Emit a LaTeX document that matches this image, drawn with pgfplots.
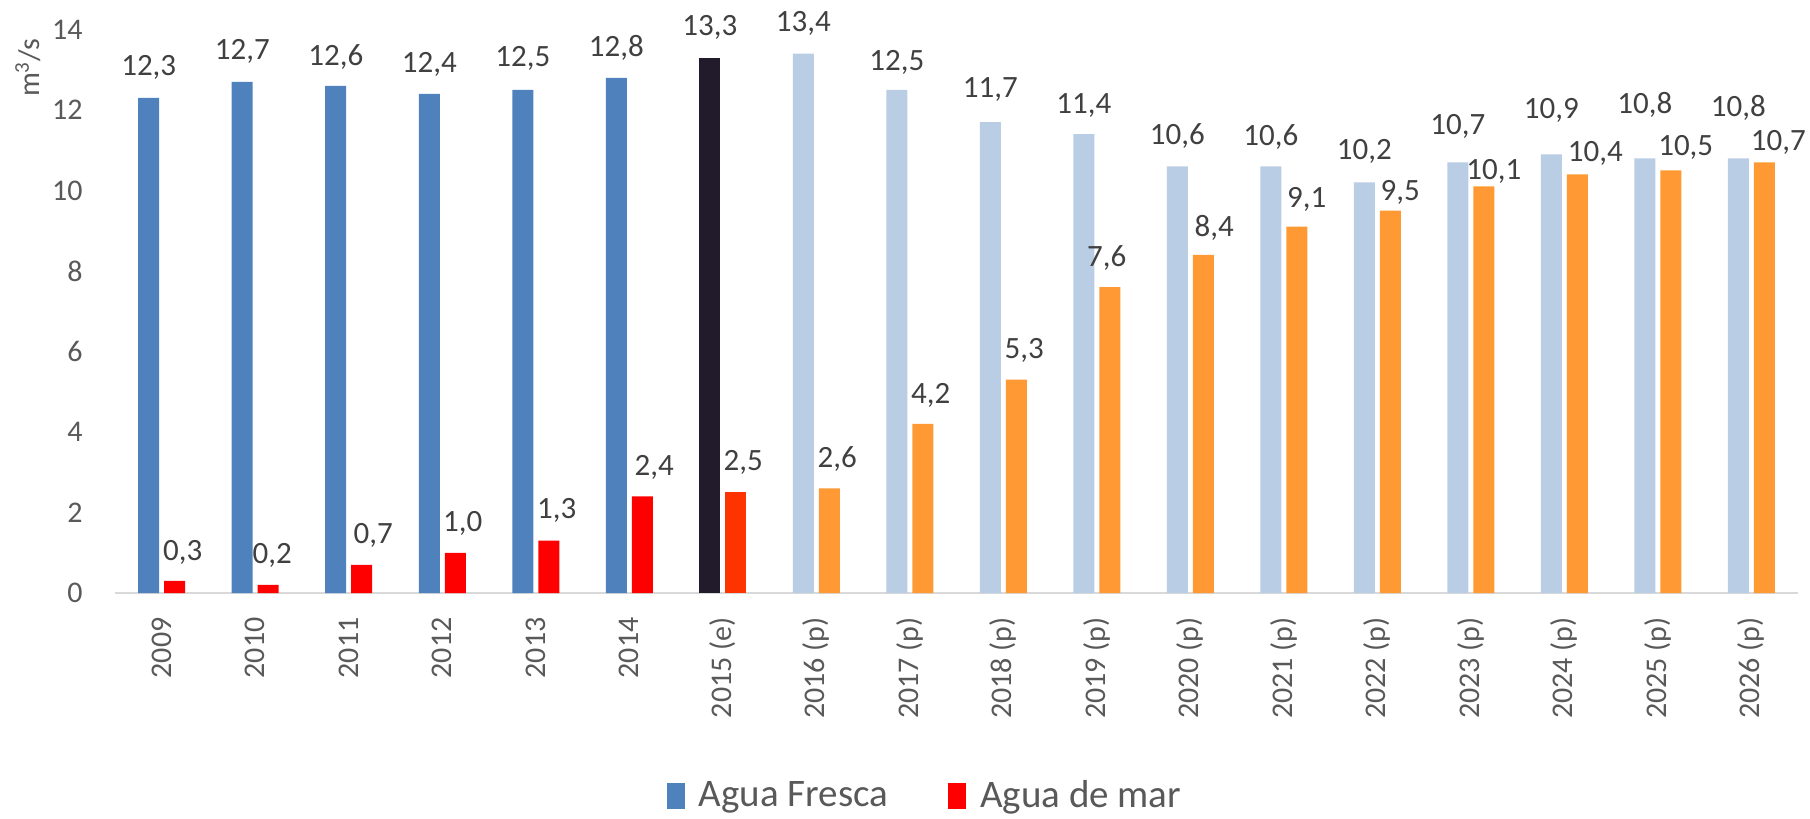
\documentclass[border=0pt]{standalone}
\usepackage{pgfplots}
\pgfplotsset{compat=1.18}
\usepackage{fontspec}
\setmainfont{Carlito}
\definecolor{cA}{HTML}{4F81BD}
\definecolor{cB}{HTML}{FF0000}
\definecolor{cC}{HTML}{211B2B}
\definecolor{cD}{HTML}{FF3300}
\definecolor{cE}{HTML}{B9CDE5}
\definecolor{cF}{HTML}{FF9933}
\definecolor{lab}{HTML}{404040}
\definecolor{tck}{HTML}{595959}
\definecolor{axl}{HTML}{D9D9D9}
\begin{document}
\begin{tikzpicture}
\useasboundingbox (-57.5pt,-113pt) rectangle (847.5pt,296.5pt);
\begin{axis}[
  at={(0pt,0pt)}, anchor=south west,
  scale only axis, width=841.5pt, height=281.75pt,
  xmin=-0.5, xmax=17.5, ymin=0, ymax=14,
  clip=false,
  separate axis lines,
  axis x line*=bottom, axis y line*=left,
  x axis line style={draw=axl, line width=1pt},
  y axis line style={draw=none},
  major tick length=0pt,
  xtick={0,...,17},
  xticklabels={2009,2010,2011,2012,2013,2014,2015 (e),2016 (p),2017 (p),2018 (p),2019 (p),2020 (p),2021 (p),2022 (p),2023 (p),2024 (p),2025 (p),2026 (p)},
  xticklabel style={rotate=90, anchor=east, inner sep=0pt, text=tck, font=\fontsize{15}{18}\selectfont},
  xticklabel shift=12pt,
  ytick={0,2,...,14},
  yticklabel style={anchor=east, inner sep=0pt, text=tck, font=\fontsize{15}{18}\selectfont},
  yticklabel shift=16pt,
  /pgf/number format/assume math mode=true,
  legend style={draw=none, at={(0.482,-0.36)}, anchor=center, legend columns=2,
    font=\fontsize{19.5}{23}\selectfont, text=tck,
    /tikz/every odd column/.append style={column sep=5pt},
    /tikz/every even column/.append style={column sep=28pt}},
  every node near coord/.style={anchor=center, text=lab, font=\fontsize{15.5}{18}\selectfont, inner sep=0pt},
]
% fresh water
\addplot[ybar, bar width=10.5pt, bar shift=-6.5pt, fill=cA, draw=none, forget plot] coordinates {(0,12.3) (1,12.7) (2,12.6) (3,12.4) (4,12.5) (5,12.8)};
\addplot[ybar, bar width=10.5pt, bar shift=-6.5pt, fill=cC, draw=none, forget plot] coordinates {(6,13.3)};
\addplot[ybar, bar width=10.5pt, bar shift=-6.5pt, fill=cE, draw=none, forget plot] coordinates {(7,13.4) (8,12.5) (9,11.7) (10,11.4) (11,10.6) (12,10.6) (13,10.2) (14,10.7) (15,10.9) (16,10.8) (17,10.8)};
% sea water
\addplot[ybar, bar width=10.5pt, bar shift=6.5pt, fill=cB, draw=none, forget plot] coordinates {(0,0.3) (1,0.2) (2,0.7) (3,1.0) (4,1.3) (5,2.4)};
\addplot[ybar, bar width=10.5pt, bar shift=6.5pt, fill=cD, draw=none, forget plot] coordinates {(6,2.5)};
\addplot[ybar, bar width=10.5pt, bar shift=6.5pt, fill=cF, draw=none, forget plot] coordinates {(7,2.6) (8,4.2) (9,5.3) (10,7.6) (11,8.4) (12,9.1) (13,9.5) (14,10.1) (15,10.4) (16,10.5) (17,10.7)};
% data labels
\addplot[only marks, mark=text, text mark={}, nodes near coords, point meta=explicit symbolic, forget plot] table[meta=lab] {
x y lab
-0.139 13.05 12,3
0.861 13.45 12,7
1.861 13.32 12,6
2.861 13.12 12,4
3.861 13.27 12,5
4.861 13.54 12,8
5.861 14.04 13,3
6.861 14.16 13,4
7.861 13.19 12,5
8.861 12.50 11,7
9.861 12.10 11,4
10.861 11.35 10,6
11.861 11.33 10,6
12.861 10.96 10,2
13.861 11.58 10,7
14.861 12.00 10,9
15.861 12.12 10,8
16.861 12.05 10,8
};
\addplot[only marks, mark=text, text mark={}, nodes near coords, point meta=explicit symbolic, forget plot] table[meta=lab] {
x y lab
0.225 1.00 0,3
1.182 0.94 0,2
2.262 1.42 0,7
3.219 1.72 1,0
4.225 2.05 1,3
5.267 3.13 2,4
6.219 3.25 2,5
7.225 3.33 2,6
8.225 4.92 4,2
9.225 6.02 5,3
10.107 8.32 7,6
11.257 9.08 8,4
12.246 9.79 9,1
13.246 9.94 9,5
14.246 10.48 10,1
15.332 10.93 10,4
16.299 11.08 10,5
17.289 11.20 10,7
};
\addlegendimage{legend image code/.code={\fill[cA] (0pt,-6.25pt) rectangle (8.5pt,6.25pt);}}
\addlegendentry{Agua Fresca}
\addlegendimage{legend image code/.code={\fill[cB] (0pt,-6.25pt) rectangle (8.5pt,6.25pt);}}
\addlegendentry{Agua de mar}
\node[rotate=90, text=tck, font=\fontsize{15}{18}\selectfont] at (rel axis cs:-0.0517,0.932) {m\textsuperscript{3}/s};
\end{axis}
\end{tikzpicture}
\end{document}
